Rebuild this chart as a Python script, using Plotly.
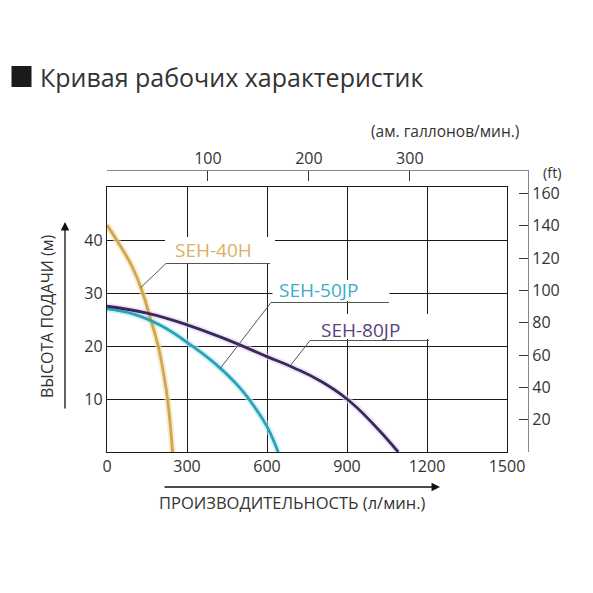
import numpy as np
import plotly.graph_objects as go

# ---------------- data ----------------
flow_40h = [0, 36, 94, 134, 159, 192, 212, 227, 246]
head_40h = [42.8, 40.0, 35.0, 30.0, 25.8, 20.0, 14.8, 10.0, 0.0]

flow_50jp = [0, 100, 200, 300, 400, 500, 560, 600, 642]
head_50jp = [27.0, 26.0, 23.9, 20.7, 16.9, 12.0, 8.0, 4.8, 0.0]

flow_80jp = [0, 150, 300, 450, 600, 700, 800, 900, 1000, 1092]
head_80jp = [27.5, 26.2, 24.0, 21.2, 18.0, 15.9, 13.4, 10.0, 5.2, 0.0]

flow_ticks = [0, 300, 600, 900, 1200, 1500]
head_ticks = [10, 20, 30, 40]
gal_ticks = [100, 200, 300]
ft_ticks = [20, 40, 60, 80, 100, 120, 140, 160]

series_names = ["SEH-40H", "SEH-50JP", "SEH-80JP"]
leader_flows = [126, 424, 686]

L_PER_GAL = 3.78541
FT_PER_M = 3.28084

# ---------------- geometry (window pixels) ----------------
OFF = 8              # page body margin
W = H = 593 - OFF
PL, PR, PT, PB = 107, 528, 170, 452
FW, FH = PR - PL, PB - PT
X_END_PX, Y_TOP_PX = 507, 187
X_MAX, Y_MAX = 1500, 50
px_per_L = (X_END_PX - PL) / X_MAX
px_per_m = (PB - Y_TOP_PX) / Y_MAX


def px(x):
    return (x - PL) / FW


def py(y):
    return (PB - y) / FH


def dx(x):
    return (x - PL) / px_per_L


def dy(y):
    return (PB - y) / px_per_m


FONT = "Open Sans"
colors = ["#cfa556", "#2d9fb9", "#3a2858"]
glows = ["#f6dfa0", "#b4ecf7", "#e2d6f4"]
label_colors = ["#dab068", "#3aaec7", "#5d3f7e"]

fig = go.Figure()
data = [(flow_40h, head_40h), (flow_50jp, head_50jp), (flow_80jp, head_80jp)]
for (q, h), g in zip(data, glows):
    fig.add_trace(go.Scatter(x=q, y=h, mode="lines", line=dict(color=g, width=6.5, shape="spline", smoothing=1.3),
                             opacity=0.6, showlegend=False, hoverinfo="skip"))
for (q, h), c, n in zip(data, colors, series_names):
    fig.add_trace(go.Scatter(x=q, y=h, mode="lines", name=n,
                             line=dict(color=c, width=2.8, shape="spline", smoothing=1.3),
                             showlegend=False))

# trace holding the secondary (gallon / feet) axes
fig.add_trace(go.Scatter(x=[None], y=[None], xaxis="x2", yaxis="y2", showlegend=False, hoverinfo="skip"))

shapes = []
annotations = []

# label boxes: (box px: x0,x1,y0,y1), text centre px, elbow px, underline end px
boxes = [
    ((165, 275, 237, 263), (213, 250), (166, 263.5), 270),
    ((272.5, 389.5, 280, 301), (318, 290), (271, 302.5), 389),
    ((310, 430, 314, 339), (360, 330), (310, 340.5), 429),
]
for i, ((bx0, bx1, by0, by1), (tx, ty), (ex, ey), uend) in enumerate(boxes):
    shapes.append(dict(type="rect", xref="x", yref="y", x0=dx(bx0), x1=dx(bx1), y0=dy(by0), y1=dy(by1),
                       fillcolor="white", line=dict(width=0), layer="above"))
    q, h = data[i]
    aq = leader_flows[i]
    ah = float(np.interp(aq, q, h))
    path = f"M {aq},{ah} L {dx(ex)},{dy(ey)} L {dx(uend)},{dy(ey)}"
    shapes.append(dict(type="path", xref="x", yref="y", path=path,
                       line=dict(color="#555555", width=1), layer="above"))
    annotations.append(dict(x=dx(tx), y=dy(ty), xref="x", yref="y", text=series_names[i], showarrow=False,
                            xanchor="center", yanchor="middle",
                            font=dict(size=19, color=label_colors[i], family=FONT)))

# title square
shapes.append(dict(type="rect", xref="paper", yref="paper", x0=px(11.5), x1=px(31.5), y0=py(87), y1=py(66),
                   fillcolor="#1a1a1a", line=dict(width=0)))
annotations.append(dict(x=px(38), y=py(77), xref="paper", yref="paper", xanchor="left", yanchor="middle",
                        text="Кривая рабочих характеристик", showarrow=False,
                        font=dict(size=25, color="#333333", family=FONT)))
annotations.append(dict(x=px(445), y=py(131), xref="paper", yref="paper", text="(ам. галлонов/мин.)",
                        xanchor="center", yanchor="middle", showarrow=False,
                        font=dict(size=15.5, color="#333333", family=FONT)))
annotations.append(dict(x=px(552), y=py(172), xref="paper", yref="paper", text="(ft)",
                        xanchor="center", yanchor="middle", showarrow=False,
                        font=dict(size=14.5, color="#333333", family=FONT)))
annotations.append(dict(x=px(47), y=py(316), xref="paper", yref="paper", text="ВЫСОТА ПОДАЧИ (м)",
                        xanchor="center", yanchor="middle", textangle=-90, showarrow=False,
                        font=dict(size=16, color="#333333", family=FONT)))
annotations.append(dict(x=px(292), y=py(502), xref="paper", yref="paper", text="ПРОИЗВОДИТЕЛЬНОСТЬ (л/мин.)",
                        xanchor="center", yanchor="middle", showarrow=False,
                        font=dict(size=16.5, color="#333333", family=FONT)))
# arrows
annotations.append(dict(x=px(65), y=py(222), xref="paper", yref="paper", text="", showarrow=True,
                        ax=0, ay=188, arrowhead=2, arrowsize=1.3, arrowwidth=1.3, arrowcolor="#111111", standoff=0))
annotations.append(dict(x=px(440), y=py(487), xref="paper", yref="paper", text="", showarrow=True,
                        ax=-277, ay=0, arrowhead=2, arrowsize=1.3, arrowwidth=1.3, arrowcolor="#111111", standoff=0))

tickfont = dict(size=16, color="#333333", family=FONT)
fig.update_layout(
    width=W, height=H,
    margin=dict(l=PL - OFF, r=593 - PR, t=PT - OFF, b=593 - PB, pad=0, autoexpand=False),
    paper_bgcolor="white", plot_bgcolor="rgba(0,0,0,0)",
    showlegend=False,
    xaxis=dict(domain=[0, (X_END_PX - PL) / FW], range=[0, X_MAX], tickvals=flow_ticks, ticks="",
               showgrid=True, gridcolor="#1a1a1a", gridwidth=1, zeroline=False,
               showline=True, mirror=True, linecolor="#1a1a1a", linewidth=1.3, tickfont=tickfont, anchor="y"),
    yaxis=dict(domain=[0, (PB - Y_TOP_PX) / FH], range=[0, Y_MAX], tickvals=head_ticks, ticks="",
               showgrid=True, gridcolor="#1a1a1a", gridwidth=1, zeroline=False,
               showline=True, mirror=True, linecolor="#1a1a1a", linewidth=1.3, tickfont=tickfont, anchor="x"),
    xaxis2=dict(domain=[0, 1], range=[0, FW / px_per_L / L_PER_GAL], tickvals=gal_ticks, side="top",
                anchor="free", position=1, ticks="inside", ticklen=10, tickcolor="#333333", tickwidth=1.2,
                showline=True, linecolor="#888888", linewidth=1.2, showgrid=False, zeroline=False,
                tickfont=tickfont),
    yaxis2=dict(domain=[0, 1], range=[0, FH / px_per_m * FT_PER_M], tickvals=ft_ticks, side="right",
                anchor="free", position=1, ticks="inside", ticklen=9, tickcolor="#333333", tickwidth=1.2,
                showline=True, linecolor="#888888", linewidth=1.2, showgrid=False, zeroline=False,
                tickfont=tickfont),
    shapes=shapes,
    annotations=annotations,
)

fig.write_html("out.html")
